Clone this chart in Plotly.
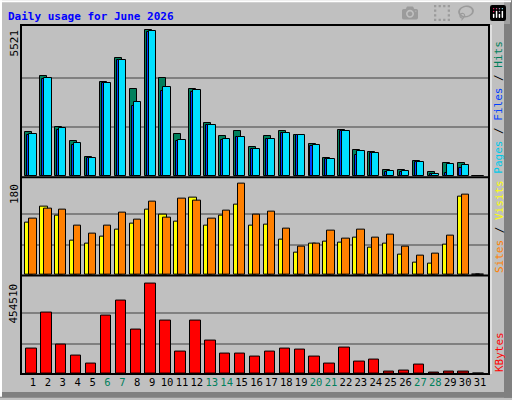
import plotly.graph_objects as go

days = list(range(1, 32))
weekend = [6, 7, 13, 14, 20, 21, 27, 28]

max_hits = 5521
max_visits = 180
max_kbytes = 454510

hits_f = [0.301, 0.681, 0.335, 0.240, 0.133, 0.643, 0.805, 0.593, 1.000, 0.667,
          0.290, 0.593, 0.362, 0.274, 0.310, 0.200, 0.274, 0.310, 0.283, 0.222,
          0.127, 0.317, 0.181, 0.167, 0.045, 0.045, 0.106, 0.025, 0.093, 0.090, 0.0]
files_f = [0.283, 0.665, 0.317, 0.215, 0.124, 0.636, 0.790, 0.480, 0.984, 0.581,
           0.242, 0.577, 0.348, 0.249, 0.267, 0.186, 0.253, 0.294, 0.280, 0.204,
           0.118, 0.308, 0.145, 0.158, 0.029, 0.029, 0.097, 0.016, 0.023, 0.057, 0.0]
pages_f = [0.287, 0.667, 0.328, 0.226, 0.124, 0.633, 0.790, 0.505, 0.993, 0.606,
           0.247, 0.586, 0.348, 0.253, 0.267, 0.186, 0.253, 0.294, 0.280, 0.210,
           0.118, 0.308, 0.172, 0.158, 0.034, 0.034, 0.097, 0.016, 0.084, 0.077, 0.0]
visits_f = [0.575, 0.749, 0.651, 0.378, 0.345, 0.422, 0.498, 0.564, 0.716, 0.662,
            0.585, 0.847, 0.542, 0.651, 0.771, 0.542, 0.553, 0.389, 0.247, 0.345,
            0.367, 0.356, 0.411, 0.302, 0.345, 0.225, 0.138, 0.127, 0.335, 0.858, 0.0]
sites_f = [0.618, 0.727, 0.716, 0.542, 0.455, 0.542, 0.684, 0.607, 0.804, 0.629,
           0.836, 0.815, 0.618, 0.705, 1.000, 0.662, 0.695, 0.509, 0.313, 0.345,
           0.487, 0.400, 0.498, 0.411, 0.444, 0.313, 0.215, 0.236, 0.433, 0.880, 0.0]
kbytes_f = [0.277, 0.672, 0.321, 0.201, 0.113, 0.639, 0.803, 0.485, 1.000, 0.584,
            0.245, 0.584, 0.365, 0.223, 0.223, 0.190, 0.245, 0.277, 0.266, 0.190,
            0.113, 0.288, 0.135, 0.157, 0.026, 0.036, 0.102, 0.011, 0.022, 0.022, 0.0]

hits = [f * max_hits for f in hits_f]
files = [f * max_hits for f in files_f]
pages = [f * max_hits for f in pages_f]
visits = [f * max_visits for f in visits_f]
sites = [f * max_visits for f in sites_f]
kbytes = [f * max_kbytes for f in kbytes_f]

BG = '#C0C0C0'
FONT = 'DejaVu Sans Mono'


def px_x(p):
    return (p - 21) / 468


def px_y(p):
    return (376 - p) / 351


fig = go.Figure()


def bars(y, color, offset, width, ax):
    fig.add_trace(go.Bar(x=days, y=y, offset=offset, width=width,
                         marker=dict(color=color, line=dict(color='black', width=1)),
                         xaxis='x' + ax, yaxis='y' + ax, showlegend=False))


bars(hits, '#00805C', -0.51, 0.47, '')
bars(files, '#0040FF', -0.38, 0.47, '')
bars(pages, '#00E0FF', -0.24, 0.49, '')
bars(visits, '#FFFF00', -0.51, 0.5, '2')
bars(sites, '#FF8000', -0.24, 0.49, '2')
bars(kbytes, '#FF0000', -0.45, 0.7, '3')

xr = [0.2, 31.6]
ticktext = [f'<span style="color:#00805C">{d}</span>' if d in weekend else str(d) for d in days]
xcommon = dict(range=xr, showgrid=False, zeroline=False, fixedrange=True)
fig.update_layout(
    xaxis=dict(**xcommon, anchor='y', showticklabels=False),
    xaxis2=dict(**xcommon, anchor='y2', showticklabels=False),
    xaxis3=dict(**xcommon, anchor='y3', tickvals=days, ticktext=ticktext, ticks='',
                tickangle=0, tickfont=dict(family=FONT, size=10.5, color='black')),
)


def yax(dom, mx, scale):
    return dict(domain=dom, range=[0, mx * scale], tickvals=[mx / 3, 2 * mx / 3],
                showticklabels=False, ticks='', gridcolor='#808080', gridwidth=1.5,
                zeroline=False, fixedrange=True)


fig.update_layout(
    yaxis=yax([px_y(177), 1.0], max_hits, 152 / 147.4),
    yaxis2=yax([px_y(276.5), px_y(178.5)], max_visits, 98 / 91.7),
    yaxis3=yax([0, px_y(277)], max_kbytes, 99 / 91.4),
)

shapes = [
    # outer bevel
    dict(type='rect', xref='paper', yref='paper', x0=px_x(504), x1=px_x(512), y0=px_y(400), y1=px_y(0),
         fillcolor='#808080', line=dict(width=0), layer='below'),
    dict(type='rect', xref='paper', yref='paper', x0=px_x(0), x1=px_x(512), y0=px_y(400), y1=px_y(394),
         fillcolor='#808080', line=dict(width=0), layer='below'),
    dict(type='line', xref='paper', yref='paper', x0=px_x(1), x1=px_x(1), y0=px_y(0), y1=px_y(399),
         line=dict(color='white', width=2)),
    dict(type='line', xref='paper', yref='paper', x0=px_x(0), x1=px_x(511), y0=px_y(1), y1=px_y(1),
         line=dict(color='white', width=2)),
    # plot frame and separators
    dict(type='rect', xref='paper', yref='paper', x0=0, x1=1, y0=0, y1=1,
         line=dict(color='black', width=2)),
    dict(type='line', xref='paper', yref='paper', x0=0, x1=1, y0=px_y(178), y1=px_y(178),
         line=dict(color='black', width=2)),
    dict(type='line', xref='paper', yref='paper', x0=0, x1=1, y0=px_y(277), y1=px_y(277),
         line=dict(color='black', width=2)),
    dict(type='line', xref='paper', yref='paper', x0=px_x(491), x1=px_x(491), y0=0, y1=1,
         line=dict(color='white', width=1)),
]

ann = [
    dict(text='<b>Daily usage for June 2026</b>', x=px_x(6), y=px_y(16), xanchor='left', yanchor='middle',
         font=dict(family=FONT, size=11, color='#0000FF')),
    dict(text=str(max_hits), x=px_x(14), y=px_y(28), xanchor='center', yanchor='top', textangle=-90,
         font=dict(family=FONT, size=11, color='black')),
    dict(text=str(max_visits), x=px_x(14), y=px_y(183), xanchor='center', yanchor='top', textangle=-90,
         font=dict(family=FONT, size=11, color='black')),
    dict(text=str(max_kbytes), x=px_x(14), y=px_y(283), xanchor='center', yanchor='top', textangle=-90,
         font=dict(family=FONT, size=11, color='black')),
    dict(text='<span style="color:#00C8E8">Pages</span> / <span style="color:#0040FF">Files</span>'
              ' / <span style="color:#00805C">Hits</span>',
         x=px_x(499), y=px_y(176), xanchor='center', yanchor='bottom', textangle=-90,
         font=dict(family=FONT, size=11, color='black')),
    dict(text='<span style="color:#FF8000">Sites</span> / <span style="color:#FFFF00">Visits</span>',
         x=px_x(499), y=px_y(276), xanchor='center', yanchor='bottom', textangle=-90,
         font=dict(family=FONT, size=11, color='black')),
    dict(text='<span style="color:#FF0000">KBytes</span>',
         x=px_x(499), y=px_y(376), xanchor='center', yanchor='bottom', textangle=-90,
         font=dict(family=FONT, size=11, color='black')),
]
for a in ann:
    a.update(xref='paper', yref='paper', showarrow=False)

fig.update_layout(
    width=512, height=400,
    margin=dict(l=21, r=23, t=25, b=24),
    paper_bgcolor=BG, plot_bgcolor=BG,
    barmode='overlay', bargap=0,
    shapes=shapes, annotations=ann,
)

fig.write_html('out.html')

# drop the default page margin so the figure sits at the window corner
with open('out.html') as fh:
    html = fh.read()
html = html.replace('<head>', '<head><style>body{margin:0;overflow:hidden}</style>', 1)
with open('out.html', 'w') as fh:
    fh.write(html)
